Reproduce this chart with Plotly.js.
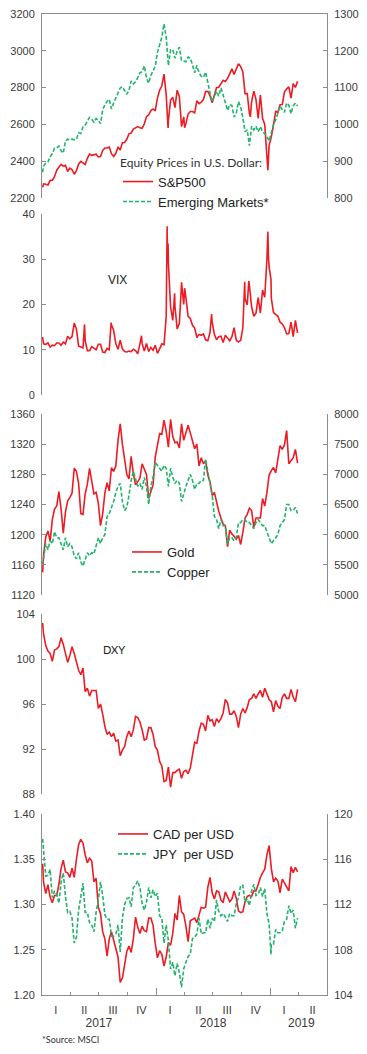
<!DOCTYPE html>
<html><head><meta charset="utf-8">
<script src="https://cdn.plot.ly/plotly-3.0.1.min.js"></script>
<style>html,body{margin:0;padding:0;background:#fff;}#chart{width:367px;height:1054px;}</style>
</head><body><div id="chart"></div>
<script>
// ---------- DATA (weekly readings from the picture) ----------
const weeks = ['2017-01-03',
'2017-01-06','2017-01-13','2017-01-20','2017-01-27','2017-02-03','2017-02-10','2017-02-17','2017-02-24','2017-03-03','2017-03-10','2017-03-17','2017-03-24','2017-03-31',
'2017-04-07','2017-04-14','2017-04-21','2017-04-28','2017-05-05','2017-05-12','2017-05-19','2017-05-26','2017-06-02','2017-06-09','2017-06-16','2017-06-23','2017-06-30',
'2017-07-07','2017-07-14','2017-07-21','2017-07-28','2017-08-04','2017-08-11','2017-08-18','2017-08-25','2017-09-01','2017-09-08','2017-09-15','2017-09-22','2017-09-29',
'2017-10-06','2017-10-13','2017-10-20','2017-10-27','2017-11-03','2017-11-10','2017-11-17','2017-11-24','2017-12-01','2017-12-08','2017-12-15','2017-12-22','2017-12-29',
'2018-01-05','2018-01-12','2018-01-19','2018-01-26','2018-02-02','2018-02-09','2018-02-16','2018-02-23','2018-03-02','2018-03-09','2018-03-16','2018-03-23','2018-03-30',
'2018-04-06','2018-04-13','2018-04-20','2018-04-27','2018-05-04','2018-05-11','2018-05-18','2018-05-25','2018-06-01','2018-06-08','2018-06-15','2018-06-22','2018-06-29',
'2018-07-06','2018-07-13','2018-07-20','2018-07-27','2018-08-03','2018-08-10','2018-08-17','2018-08-24','2018-08-31','2018-09-07','2018-09-14','2018-09-21','2018-09-28',
'2018-10-05','2018-10-12','2018-10-19','2018-10-26','2018-11-02','2018-11-09','2018-11-16','2018-11-23','2018-11-30','2018-12-07','2018-12-14','2018-12-21','2018-12-28',
'2019-01-04','2019-01-11','2019-01-18','2019-01-25','2019-02-01','2019-02-08','2019-02-15','2019-02-22','2019-03-01','2019-03-08','2019-03-15','2019-03-22','2019-03-29'];

const spx = [2258,
2277,2275,2271,2295,2297,2316,2351,2367,2383,2373,2378,2344,2363,
2355,2329,2349,2384,2399,2391,2382,2416,2439,2432,2433,2438,2423,
2425,2459,2472,2472,2477,2441,2426,2443,2477,2461,2500,2502,2519,
2549,2553,2575,2581,2588,2582,2579,2603,2642,2652,2675,2684,2674,
2743,2786,2810,2873,2762,2620,2732,2747,2691,2786,2752,2588,2641,
2604,2656,2670,2670,2663,2728,2713,2721,2735,2779,2780,2755,2718,
2760,2801,2802,2819,2840,2833,2850,2875,2902,2872,2905,2930,2914,
2886,2767,2768,2659,2723,2781,2736,2633,2760,2633,2600,2417,2486,
2532,2596,2671,2665,2707,2708,2776,2793,2804,2743,2822,2801,2834];
const spxExtraDates = ['2018-02-08','2018-04-02','2018-10-29','2018-12-24'];
const spxExtra = [2581,2582,2641,2351];

const emerging = [870,
887,895,898,912,920,935,936,941,928,922,955,960,958,
960,958,960,977,975,993,998,1010,1019,1014,1006,1016,1011,
1002,1040,1053,1063,1068,1042,1058,1073,1085,1099,1102,1093,1082,
1093,1118,1110,1116,1127,1140,1143,1159,1126,1112,1133,1147,1158,
1195,1214,1237,1273,1237,1160,1203,1203,1180,1199,1210,1174,1171,
1170,1183,1180,1162,1140,1160,1140,1131,1128,1142,1110,1086,1062,
1074,1090,1077,1099,1080,1062,1038,1054,1051,1020,1030,1062,1048,
1018,980,985,942,995,985,995,980,994,980,975,967,955,
975,1000,1012,1032,1050,1040,1033,1058,1052,1029,1050,1058,1050];

const vix = [12.8,
11.3,11.2,11.5,10.6,11.0,10.9,11.5,11.5,11.0,11.7,11.3,13.0,12.4,
12.9,15.9,14.6,10.8,10.6,10.4,12.0,9.8,9.8,10.7,10.4,10.0,11.2,
11.2,9.5,9.4,10.3,10.0,15.5,14.3,11.3,10.1,12.1,10.2,9.6,9.5,
9.7,9.6,10.1,9.8,9.1,11.3,11.4,9.7,11.4,9.6,10.5,9.9,11.0,
9.2,10.2,11.3,11.1,17.3,29.1,19.5,16.5,19.6,14.6,15.8,24.9,20.0,
21.5,17.4,16.9,15.4,14.8,12.7,13.4,13.2,13.5,12.2,12.0,13.8,16.1,
13.4,12.2,12.9,13.0,11.6,13.2,12.6,12.0,12.9,14.9,12.1,11.7,12.1,
14.8,21.3,19.9,24.2,19.5,17.4,18.1,21.5,18.1,23.2,21.6,30.1,28.3,
21.4,18.2,17.8,17.4,16.1,15.7,14.9,13.5,13.6,16.1,12.9,16.5,13.7];
const vixExtraDates = ['2017-05-17','2017-08-10','2017-11-15','2018-02-05','2018-02-06','2018-02-08','2018-03-01','2018-03-22','2018-04-02','2018-06-27','2018-10-11','2018-10-24','2018-12-24','2018-12-26','2019-01-03'];
const vixExtra = [15.6,16.0,13.1,37.3,30.0,33.5,22.5,23.3,23.6,17.9,25.0,25.2,36.1,30.4,25.5];

const gold = [1150,
1173,1197,1205,1191,1220,1234,1238,1257,1234,1202,1230,1245,1249,
1255,1288,1284,1268,1228,1227,1254,1267,1288,1270,1254,1256,1242,
1212,1228,1255,1269,1258,1289,1284,1291,1325,1347,1320,1297,1280,
1274,1304,1281,1266,1270,1275,1294,1288,1280,1248,1257,1266,1303,
1320,1334,1333,1352,1337,1316,1353,1330,1322,1323,1315,1347,1325,
1334,1345,1335,1323,1314,1320,1291,1302,1294,1298,1279,1270,1252,
1256,1241,1231,1222,1214,1212,1184,1206,1201,1198,1194,1199,1187,
1203,1222,1227,1235,1232,1210,1222,1222,1222,1248,1238,1256,1279,
1285,1289,1282,1298,1318,1313,1319,1338,1294,1298,1302,1313,1295];

const copper = [5500,
5600,5850,5750,5900,5850,6050,5950,5950,5850,5750,5950,5800,5850,
5800,5650,5600,5700,5550,5480,5600,5700,5650,5700,5680,5820,5950,
5850,5950,6000,6300,6350,6450,6550,6700,6800,6850,6550,6400,6450,
6650,6900,7050,6900,6800,6850,6750,6950,6800,6500,6800,6950,7200,
7150,7100,7050,7150,7100,6800,7100,6950,6850,6900,6850,6550,6700,
6800,6900,7000,6900,6750,6850,6850,6900,6900,7250,7050,6850,6650,
6300,6250,6100,6250,6150,6150,5850,5950,5950,5900,5950,6200,6200,
6250,6250,6200,6200,6150,6100,6200,6250,6200,6150,6150,6050,5950,
5850,5900,5950,6000,6150,6200,6250,6500,6500,6400,6400,6450,6350];

const dxy = [103.2,
102.2,101.2,100.7,100.5,99.8,100.8,100.9,101.1,101.9,101.3,100.4,99.7,100.3,
101.1,100.5,99.8,99.0,98.6,99.2,97.1,97.4,96.7,97.2,97.2,97.2,95.6,
96.0,95.1,94.0,93.3,93.5,93.1,93.4,92.7,92.8,91.4,91.9,92.2,93.1,
93.6,93.1,93.7,94.9,94.8,94.4,93.7,92.8,92.9,93.9,93.9,93.3,92.2,
91.9,90.9,90.5,89.1,89.2,90.4,88.6,89.9,89.9,90.1,90.2,89.4,90.0,
90.1,89.8,90.3,91.6,92.6,92.5,93.6,94.3,94.2,93.6,95.0,94.5,94.6,
94.0,94.7,94.4,94.7,95.2,96.4,96.1,95.1,95.1,95.4,94.9,93.9,95.1,
95.6,95.2,95.7,96.4,96.5,96.9,96.5,96.9,97.2,96.6,97.4,96.9,96.4,
96.2,95.3,96.3,95.8,95.6,96.6,96.9,96.5,96.5,97.3,96.6,96.2,97.3];

const cad = [1.345,
1.325,1.312,1.322,1.308,1.302,1.310,1.310,1.322,1.340,1.349,1.336,1.335,1.330,
1.340,1.330,1.350,1.366,1.372,1.368,1.355,1.346,1.351,1.348,1.325,1.329,1.297,
1.290,1.270,1.262,1.243,1.262,1.270,1.260,1.251,1.242,1.214,1.219,1.233,1.248,
1.254,1.247,1.262,1.286,1.275,1.268,1.276,1.271,1.270,1.285,1.285,1.277,1.257,
1.241,1.249,1.245,1.232,1.242,1.258,1.255,1.268,1.290,1.283,1.310,1.292,1.289,
1.276,1.259,1.282,1.284,1.285,1.280,1.288,1.297,1.296,1.297,1.319,1.330,1.313,
1.306,1.315,1.314,1.305,1.302,1.314,1.309,1.303,1.306,1.315,1.307,1.293,1.291,
1.292,1.303,1.309,1.310,1.309,1.315,1.315,1.322,1.330,1.335,1.339,1.355,1.365,
1.340,1.325,1.329,1.326,1.313,1.328,1.324,1.320,1.315,1.342,1.335,1.341,1.336];

const jpy = [117.8,
117.0,114.5,114.6,115.1,112.6,113.2,112.9,112.1,114.0,114.8,112.7,111.3,111.4,
110.8,108.6,109.1,111.5,112.7,113.9,111.3,111.3,110.4,110.2,109.6,111.3,112.4,
114.0,112.8,111.1,110.7,110.7,109.2,109.2,109.4,110.2,107.8,110.8,112.0,112.5,
112.6,111.8,113.5,113.7,114.1,113.5,112.1,111.5,112.2,113.5,112.6,113.3,112.7,
113.0,111.0,110.8,108.6,110.2,108.8,106.3,106.9,105.7,106.8,106.0,104.7,106.3,
106.9,107.4,107.6,109.0,109.1,109.4,110.8,109.4,109.5,109.5,110.7,109.9,110.8,
110.5,112.4,111.4,111.0,111.2,110.9,110.5,111.2,111.0,111.0,112.1,112.6,113.7,
113.7,112.2,112.5,111.9,113.2,113.8,112.8,112.9,113.5,112.7,113.4,111.2,110.3,
108.5,108.5,109.8,109.5,109.5,109.7,110.5,110.7,111.9,111.2,111.5,109.9,110.8];
const jpyExtraDates = ['2019-01-03'];
const jpyExtra = [107.6];

// axis tick labels
const quarterMid = ['2017-02-14','2017-05-16','2017-08-16','2017-11-15','2018-02-14','2018-05-16','2018-08-16','2018-11-15','2019-02-14','2019-05-16'];
const quarterLabels = ['I','II','III','IV','I','II','III','IV','I','II'];
const quarterBounds = ['2017-04-01','2017-07-01','2017-10-01','2018-04-01','2018-07-01','2018-10-01','2019-04-01'];
const yearBounds = ['2018-01-01','2019-01-01'];
const yearMid = ['2017-07-02','2018-07-02','2019-04-10'];
const yearLabels = ['2017','2018','2019'];

// ---------- helpers ----------
function merged(d, v, ed, ev) {
  const pts = d.map((x, i) => [x, v[i]]).concat((ed || []).map((x, i) => [x, ev[i]]));
  pts.sort((a, b) => (a[0] < b[0] ? -1 : a[0] > b[0] ? 1 : 0));
  return { x: pts.map(p => p[0]), y: pts.map(p => p[1]) };
}
const H = 1054, W = 367;
const fy = px => 1 - px / H;
const XD = [42 / W, 327 / W];
const XR = ['2017-01-01', '2019-07-01'];
const RED = '#ec1c24', GREEN = '#22b36c', AX = '#8c8c8c', TXT = '#3a3a3a';
const FONT = 'Liberation Sans, Arial, sans-serif';
const redLine = { color: RED, width: 1.6 };
const greenLine = { color: GREEN, width: 1.6, dash: '4px,2px' };

const s1 = merged(weeks, spx, spxExtraDates, spxExtra);
const s2 = merged(weeks, vix, vixExtraDates, vixExtra);
const s5 = merged(weeks, jpy, jpyExtraDates, jpyExtra);

const traces = [
  { x: s1.x, y: s1.y, name: 'S&P500', type: 'scatter', mode: 'lines', line: redLine, xaxis: 'x', yaxis: 'y', legend: 'legend' },
  { x: weeks, y: emerging, name: 'Emerging Markets*', type: 'scatter', mode: 'lines', line: greenLine, xaxis: 'x', yaxis: 'y2', legend: 'legend' },
  { x: s2.x, y: s2.y, name: 'VIX', type: 'scatter', mode: 'lines', line: redLine, xaxis: 'x2', yaxis: 'y3', showlegend: false },
  { x: weeks, y: gold, name: 'Gold', type: 'scatter', mode: 'lines', line: redLine, xaxis: 'x3', yaxis: 'y5', legend: 'legend2' },
  { x: weeks, y: copper, name: 'Copper', type: 'scatter', mode: 'lines', line: greenLine, xaxis: 'x3', yaxis: 'y6', legend: 'legend2' },
  { x: weeks, y: dxy, name: 'DXY', type: 'scatter', mode: 'lines', line: redLine, xaxis: 'x4', yaxis: 'y7', showlegend: false },
  { x: weeks, y: cad, name: 'CAD per USD', type: 'scatter', mode: 'lines', line: redLine, xaxis: 'x5', yaxis: 'y9', legend: 'legend3' },
  { x: s5.x, y: s5.y, name: 'JPY  per USD', type: 'scatter', mode: 'lines', line: greenLine, xaxis: 'x5', yaxis: 'y10', legend: 'legend3' },
  // empty carriers so the extra date axes (quarter ticks, year ticks, year labels) get drawn
  { x: [], y: [], type: 'scatter', mode: 'lines', xaxis: 'x6', yaxis: 'y9', showlegend: false, hoverinfo: 'skip' },
  { x: [], y: [], type: 'scatter', mode: 'lines', xaxis: 'x7', yaxis: 'y9', showlegend: false, hoverinfo: 'skip' },
  { x: [], y: [], type: 'scatter', mode: 'lines', xaxis: 'x8', yaxis: 'y9', showlegend: false, hoverinfo: 'skip' }
];

function yax(top, bottom, range, dtick, extra) {
  return Object.assign({
    domain: [fy(bottom), fy(top)], range: range, dtick: dtick, tick0: range[0], tickmode: 'linear',
    showline: true, linecolor: AX, linewidth: 1, ticks: 'inside', ticklen: 4, tickcolor: AX, tickwidth: 1,
    showgrid: false, zeroline: false, ticklabelstandoff: 4,
    tickfont: { family: FONT, size: 11, color: TXT }, fixedrange: true
  }, extra || {});
}
function xax(extra) {
  return Object.assign({ domain: XD, range: XR, type: 'date', showgrid: false, zeroline: false, fixedrange: true }, extra);
}
const P = [[14, 198], [214, 395], [414, 595], [614, 794], [814, 995]];
const legFont = { family: FONT, size: 13, color: '#222' };

const layout = {
  width: W, height: H, margin: { l: 0, r: 0, t: 0, b: 0 },
  paper_bgcolor: '#fff', plot_bgcolor: 'rgba(0,0,0,0)', font: { family: FONT, color: TXT },
  xaxis: xax({ anchor: 'y', side: 'top', showline: true, linecolor: AX, linewidth: 1, ticks: '', showticklabels: false }),
  xaxis2: xax({ anchor: 'y3', visible: false }),
  xaxis3: xax({ anchor: 'y5', visible: false }),
  xaxis4: xax({ anchor: 'y7', visible: false }),
  xaxis5: xax({ anchor: 'y9', showline: true, linecolor: AX, linewidth: 1, tickmode: 'array', tickvals: quarterMid, ticktext: quarterLabels, ticks: '', ticklabelstandoff: 5, tickfont: { family: FONT, size: 11, color: TXT } }),
  xaxis6: xax({ anchor: 'y9', overlaying: 'x5', tickmode: 'array', tickvals: quarterBounds, ticks: 'inside', ticklen: 3, tickcolor: AX, showticklabels: false, showline: false }),
  xaxis7: xax({ anchor: 'y9', overlaying: 'x5', tickmode: 'array', tickvals: yearBounds, ticks: 'inside', ticklen: 7, tickcolor: AX, showticklabels: false, showline: false }),
  xaxis8: xax({ anchor: 'y9', overlaying: 'x5', tickmode: 'array', tickvals: yearMid, ticktext: yearLabels, ticks: '', ticklabelstandoff: 19, showline: false, tickfont: { family: FONT, size: 12, color: TXT } }),
  yaxis: yax(P[0][0], P[0][1], [2200, 3200], 200, { anchor: 'x' }),
  yaxis2: yax(P[0][0], P[0][1], [800, 1300], 100, { anchor: 'x', overlaying: 'y', side: 'right' }),
  yaxis3: yax(P[1][0], P[1][1], [0, 40], 10, { anchor: 'x2' }),
  yaxis4: yax(P[1][0], P[1][1], [0, 40], 10, { anchor: 'x2', overlaying: 'y3', side: 'right' }),
  yaxis5: yax(P[2][0], P[2][1], [1120, 1360], 40, { anchor: 'x3' }),
  yaxis6: yax(P[2][0], P[2][1], [5000, 8000], 500, { anchor: 'x3', overlaying: 'y5', side: 'right' }),
  yaxis7: yax(P[3][0], P[3][1], [88, 104], 4, { anchor: 'x4' }),
  yaxis8: yax(P[3][0], P[3][1], [88, 104], 4, { anchor: 'x4', overlaying: 'y7', side: 'right' }),
  yaxis9: yax(P[4][0], P[4][1], [1.2, 1.4], 0.05, { anchor: 'x5', tickformat: '.2f' }),
  yaxis10: yax(P[4][0], P[4][1], [104, 120], 4, { anchor: 'x5', overlaying: 'y9', side: 'right' }),
  legend: { x: 118 / W, y: fy(151), xanchor: 'left', yanchor: 'top', bgcolor: 'rgba(0,0,0,0)', borderwidth: 0,
    font: legFont, tracegroupgap: 0,
    title: { text: 'Equity Prices in U.S. Dollar:', side: 'top', font: { family: 'Lato, Open Sans, sans-serif', size: 12, color: '#333' } } },
  legend2: { x: 127 / W, y: fy(537), xanchor: 'left', yanchor: 'top', bgcolor: 'rgba(0,0,0,0)', borderwidth: 0, font: legFont, tracegroupgap: 0 },
  legend3: { x: 113 / W, y: fy(819), xanchor: 'left', yanchor: 'top', bgcolor: 'rgba(0,0,0,0)', borderwidth: 0, font: legFont, tracegroupgap: 0 },
  annotations: [
    { text: 'VIX', xref: 'paper', yref: 'paper', x: 117 / W, y: fy(280), xanchor: 'center', yanchor: 'middle', showarrow: false, font: { family: FONT, size: 12, color: '#222' } },
    { text: 'DXY', xref: 'paper', yref: 'paper', x: 114 / W, y: fy(649), xanchor: 'center', yanchor: 'middle', showarrow: false, font: { family: 'Lato, sans-serif', size: 11, color: '#222' } },
    { text: '*Source: MSCI', xref: 'paper', yref: 'paper', x: 40 / W, y: fy(1039), xanchor: 'left', yanchor: 'middle', showarrow: false, font: { family: 'Lato, sans-serif', size: 9, color: '#333' } }
  ],
  showlegend: true
};

Plotly.newPlot('chart', traces, layout, { staticPlot: true, displayModeBar: false });
</script>
</body></html>
